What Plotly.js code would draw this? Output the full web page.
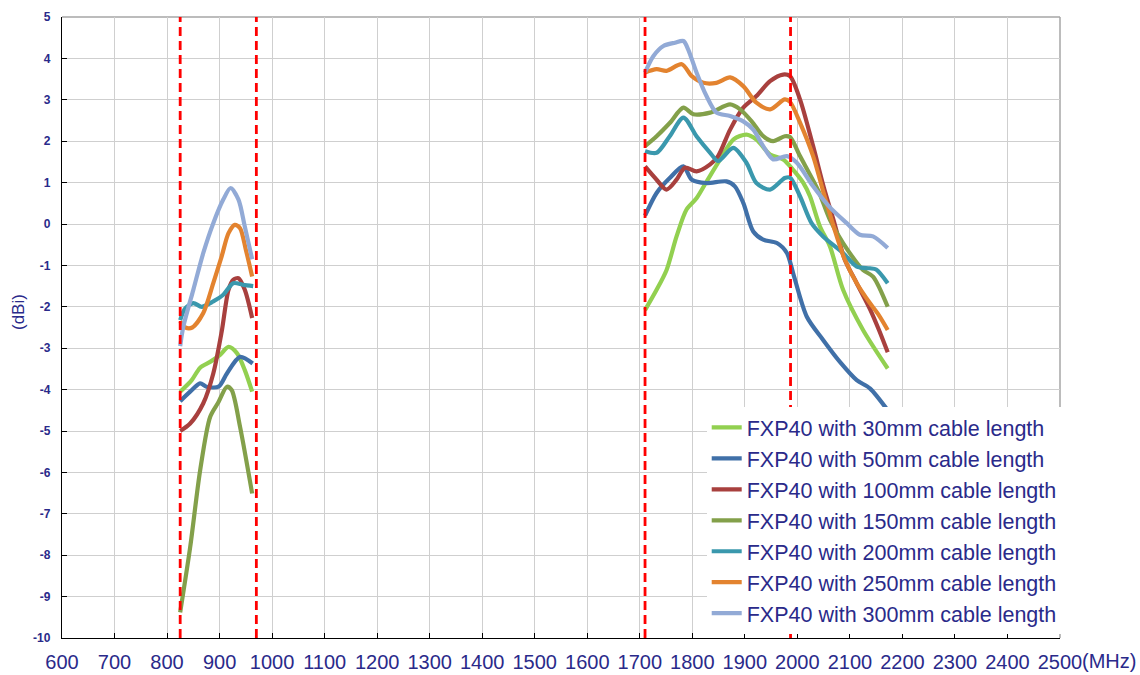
<!DOCTYPE html>
<html>
<head>
<meta charset="utf-8">
<script src="https://cdn.plot.ly/plotly-3.0.1.min.js"></script>
<style>html,body{margin:0;padding:0;background:#fff;}#chart{width:1140px;height:675px;}</style>
</head>
<body>
<div id="chart"></div>
<script>
// ---- data (frequency in MHz, gain in dBi) ----
const seriesNames = [
  "FXP40 with 30mm cable length",
  "FXP40 with 50mm cable length",
  "FXP40 with 100mm cable length",
  "FXP40 with 150mm cable length",
  "FXP40 with 200mm cable length",
  "FXP40 with 250mm cable length",
  "FXP40 with 300mm cable length"
];
const seriesColors = ["#92d050", "#4070a8", "#a8403e", "#83a04a", "#3a98ad", "#e3832f", "#92aad6"];

const lowF_30  = [825, 847, 863, 882, 901, 917, 933, 948, 962];
const lowV_30  = [-4.05, -3.77, -3.47, -3.33, -3.16, -2.97, -3.12, -3.53, -4.05];
const highF_30 = [1710, 1732, 1751, 1770, 1789, 1808, 1827, 1853, 1878, 1903, 1922, 1948, 1973, 1992, 2011, 2024, 2043, 2062, 2087, 2125, 2172];
const highV_30 = [-2.08, -1.59, -1.11, -0.30, 0.35, 0.62, 1.02, 1.56, 2.04, 2.16, 2.04, 1.68, 1.56, 1.31, 1.0, 0.67, -0.06, -0.54, -1.59, -2.56, -3.49];

const lowF_50  = [825, 844, 863, 875, 898, 914, 939, 963];
const lowV_50  = [-4.28, -4.05, -3.85, -3.93, -3.93, -3.61, -3.21, -3.37];
const highF_50 = [1710, 1732, 1757, 1783, 1799, 1827, 1865, 1881, 1897, 1916, 1935, 1961, 1980, 1992, 2018, 2049, 2081, 2113, 2138, 2172];
const highV_50 = [0.2, 0.75, 1.11, 1.39, 1.07, 0.99, 1.03, 0.91, 0.51, -0.18, -0.38, -0.46, -0.70, -1.19, -2.24, -2.80, -3.33, -3.77, -3.97, -4.50];

const lowF_100  = [825, 844, 869, 888, 904, 917, 926, 936, 948, 962];
const lowV_100  = [-5.0, -4.82, -4.33, -3.61, -2.6, -1.59, -1.35, -1.31, -1.59, -2.27];
const highF_100 = [1710, 1732, 1751, 1770, 1786, 1808, 1834, 1849, 1872, 1897, 1922, 1948, 1973, 1986, 2005, 2030, 2050, 2071, 2090, 2113, 2138, 2155, 2172];
const highV_100 = [1.39, 1.07, 0.83, 1.07, 1.36, 1.27, 1.44, 1.64, 2.28, 2.81, 3.09, 3.45, 3.61, 3.57, 3.01, 1.88, 0.9, 0.0, -0.85, -1.43, -2.05, -2.55, -3.1];

const lowF_150  = [825, 844, 863, 882, 898, 914, 923, 939, 962];
const lowV_150  = [-9.38, -7.81, -5.95, -4.66, -4.30, -3.93, -4.01, -4.9, -6.51];
const highF_150 = [1710, 1732, 1757, 1783, 1802, 1834, 1872, 1891, 1913, 1935, 1954, 1976, 1986, 2005, 2040, 2062, 2087, 2125, 2144, 2172];
const highV_150 = [1.88, 2.12, 2.44, 2.81, 2.65, 2.69, 2.89, 2.77, 2.48, 2.12, 2.0, 2.12, 2.1, 1.64, 0.8, 0.1, -0.46, -1.11, -1.27, -2.0];

const lowF_200  = [825, 834, 850, 866, 888, 907, 926, 945, 964];
const lowV_200  = [-2.32, -2.05, -1.91, -2.0, -1.87, -1.71, -1.43, -1.47, -1.5];
const highF_200 = [1710, 1732, 1757, 1783, 1808, 1834, 1849, 1878, 1903, 1922, 1948, 1976, 1986, 2005, 2027, 2049, 2087, 2113, 2138, 2150, 2172];
const highV_200 = [1.76, 1.72, 2.12, 2.57, 2.12, 1.72, 1.52, 1.84, 1.48, 0.99, 0.83, 1.11, 1.12, 0.67, 0.02, -0.3, -0.7, -1.03, -1.07, -1.1, -1.43];

const lowF_250  = [825, 835, 848, 869, 888, 904, 917, 929, 939, 950, 962];
const lowV_250  = [-2.35, -2.5, -2.5, -2.15, -1.43, -0.78, -0.22, -0.02, -0.1, -0.62, -1.27];
const highF_250 = [1710, 1732, 1751, 1780, 1799, 1821, 1846, 1872, 1897, 1922, 1948, 1976, 1986, 2005, 2030, 2050, 2071, 2090, 2113, 2138, 2155, 2172];
const highV_250 = [3.66, 3.74, 3.70, 3.86, 3.57, 3.41, 3.41, 3.54, 3.33, 2.93, 2.77, 3.01, 2.95, 2.45, 1.64, 0.75, -0.14, -0.85, -1.43, -1.91, -2.2, -2.56];

const lowF_300  = [825, 831, 850, 869, 888, 907, 921, 936, 948, 962];
const lowV_300  = [-2.95, -2.48, -1.59, -0.70, 0.02, 0.59, 0.87, 0.59, -0.06, -0.85];
const highF_300 = [1710, 1726, 1745, 1767, 1783, 1792, 1808, 1827, 1846, 1872, 1897, 1916, 1935, 1954, 1980, 1999, 2030, 2062, 2094, 2119, 2144, 2172];
const highV_300 = [3.66, 4.06, 4.30, 4.38, 4.42, 4.22, 3.66, 3.09, 2.69, 2.61, 2.48, 2.28, 1.88, 1.56, 1.64, 1.48, 0.91, 0.4, 0.02, -0.26, -0.30, -0.58];

// band edges (red dashed markers)
const bandEdges = [825, 970, 1710, 1987];

// axis ticks
const xTicks = [600,700,800,900,1000,1100,1200,1300,1400,1500,1600,1700,1800,1900,2000,2100,2200,2300,2400,2500];
const yTicks = [5,4,3,2,1,0,-1,-2,-3,-4,-5,-6,-7,-8,-9,-10];

// ---- build ----
const lowF  = [lowF_30, lowF_50, lowF_100, lowF_150, lowF_200, lowF_250, lowF_300];
const lowV  = [lowV_30, lowV_50, lowV_100, lowV_150, lowV_200, lowV_250, lowV_300];
const highF = [highF_30, highF_50, highF_100, highF_150, highF_200, highF_250, highF_300];
const highV = [highV_30, highV_50, highV_100, highV_150, highV_200, highV_250, highV_300];

const navy = "#2a2a8a";
const traces = seriesNames.map((name, i) => ({
  type: "scatter",
  mode: "lines",
  name: name,
  legendgroup: "g" + i,
  x: lowF[i].concat([null], highF[i]),
  y: lowV[i].concat([null], highV[i]),
  connectgaps: false,
  line: {color: seriesColors[i], width: 4.2, shape: "spline", smoothing: 0.8},
  hoverinfo: "x+y+name"
}));

const shapes = bandEdges.map(f => ({
  type: "line", xref: "x", yref: "paper", x0: f, x1: f, y0: 0, y1: 1,
  line: {color: "#ff0000", width: 2.8, dash: "9px,5px"}, layer: "above"
}));
// grey top/right frame
shapes.push({type: "line", xref: "paper", yref: "paper", x0: 0, x1: 1, y0: 1, y1: 1, line: {color: "#a6a6a6", width: 1.5}, layer: "below"});
shapes.push({type: "line", xref: "paper", yref: "paper", x0: 1, x1: 1, y0: 0, y1: 1, line: {color: "#a6a6a6", width: 1.5}, layer: "below"});

const layout = {
  width: 1140, height: 675,
  margin: {l: 62, r: 80, t: 17, b: 37},
  paper_bgcolor: "#ffffff",
  plot_bgcolor: "#ffffff",
  showlegend: true,
  legend: {
    x: 0.646, xanchor: "left", y: 0.372, yanchor: "top",
    bgcolor: "#ffffff", borderwidth: 0,
    font: {family: "Liberation Sans, Arial, sans-serif", size: 21.5, color: navy},
    itemwidth: 30, tracegroupgap: 4, traceorder: "normal"
  },
  xaxis: {
    range: [600, 2500], tickvals: xTicks, ticktext: xTicks.map(String),
    showgrid: true, gridcolor: "#cfcfcf", gridwidth: 1,
    showline: true, linecolor: "#000000", linewidth: 1.3,
    ticks: "inside", ticklen: 5, tickcolor: "#000000",
    tickfont: {family: "Liberation Sans Narrow, Arial Narrow, sans-serif", size: 20, color: navy},
    ticklabelstandoff: 6,
    zeroline: false, fixedrange: true
  },
  yaxis: {
    range: [-10, 5], tickvals: yTicks, ticktext: yTicks.map(String),
    showgrid: true, gridcolor: "#cfcfcf", gridwidth: 1,
    showline: true, linecolor: "#000000", linewidth: 1.3,
    ticks: "inside", ticklen: 5, tickcolor: "#000000",
    tickfont: {family: "Liberation Sans, Arial, sans-serif", size: 12, color: navy, weight: "bold"},
    ticklabelstandoff: 8,
    zeroline: false, fixedrange: true
  },
  shapes: shapes,
  annotations: [{
    xref: "paper", yref: "paper", x: 1, y: 0, xanchor: "left", yanchor: "middle",
    xshift: 20, yshift: -23, showarrow: false, text: "(MHz)",
    font: {family: "Liberation Sans Narrow, Arial Narrow, sans-serif", size: 20, color: navy}
  }, {
    xref: "paper", yref: "paper", x: 0, y: (638 - 312) / 621, xanchor: "center", yanchor: "middle",
    xshift: -44, showarrow: false, text: "(dBi)", textangle: -90,
    font: {family: "Liberation Sans, Arial, sans-serif", size: 17, color: navy}
  }]
};

Plotly.newPlot("chart", traces, layout, {displayModeBar: false, responsive: false});
</script>
</body>
</html>
